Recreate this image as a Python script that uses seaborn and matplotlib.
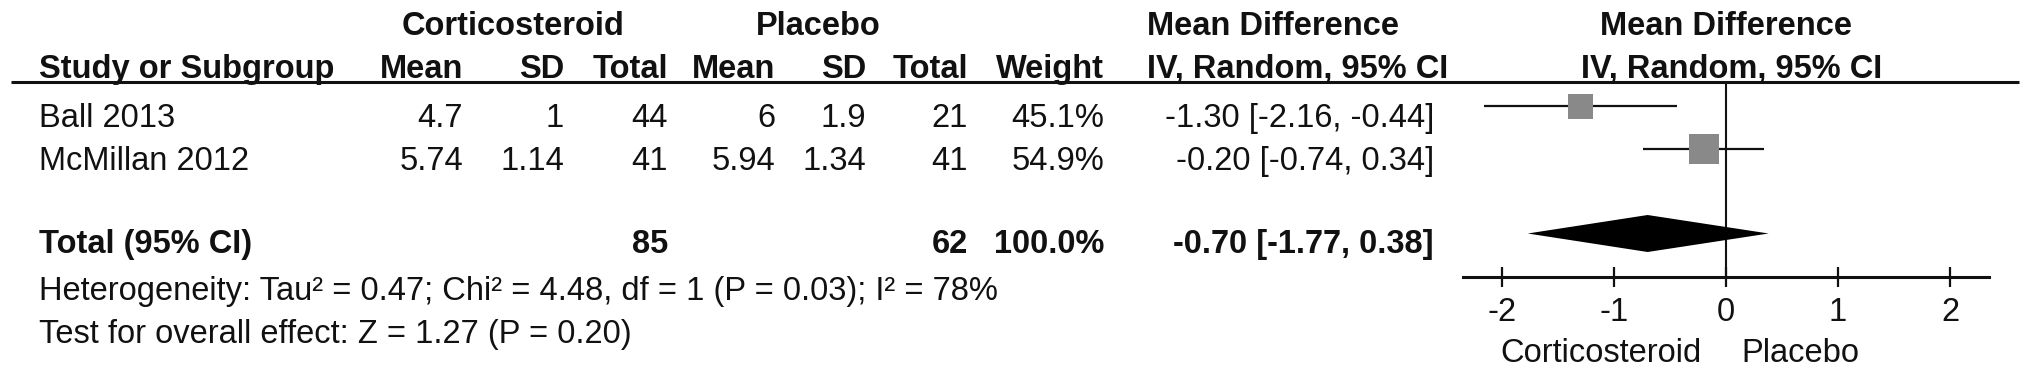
import pandas as pd
import numpy as np
import matplotlib
matplotlib.use("Agg")
import matplotlib.pyplot as plt
import seaborn as sns

# study data
studies = ["Ball 2013", "McMillan 2012"]
cs_mean = [4.7, 5.74]
cs_sd = [1, 1.14]
cs_n = [44, 41]
pl_mean = [6, 5.94]
pl_sd = [1.9, 1.34]
pl_n = [21, 41]
weight = [45.1, 54.9]
md = [-1.30, -0.20]
ci_lo = [-2.16, -0.74]
ci_hi = [-0.44, 0.34]

# pooled result
total_cs_n = 85
total_pl_n = 62
total_weight = 100.0
total_md = -0.70
total_lo = -1.77
total_hi = 0.38
heterogeneity = "Heterogeneity: Tau² = 0.47; Chi² = 4.48, df = 1 (P = 0.03); I² = 78%"
overall = "Test for overall effect: Z = 1.27 (P = 0.20)"
x_ticks = [-2, -1, 0, 1, 2]

df = pd.DataFrame({"study": studies, "md": md, "lo": ci_lo, "hi": ci_hi, "weight": weight})

sns.set_style("white")
plt.rcParams["font.family"] = ["Liberation Sans", "DejaVu Sans"]
plt.rcParams["axes.unicode_minus"] = False

W, H = 2031, 374
FS = 23.5
INK = "#111111"
fig = plt.figure(figsize=(W / 100, H / 100), dpi=100)

# table layer in pixel coordinates
tab = fig.add_axes([0, 0, 1, 1])
tab.set_xlim(0, W)
tab.set_ylim(H, 0)
tab.axis("off")

def put(x, y, s, ha="right", bold=False):
    tab.text(x, y, s, ha=ha, va="baseline", fontsize=FS, color=INK,
             fontweight="bold" if bold else "normal")

# headers
put(513, 35, "Corticosteroid", ha="center", bold=True)
put(818, 35, "Placebo", ha="center", bold=True)
put(1147, 35, "Mean Difference", ha="left", bold=True)
put(1726, 35, "Mean Difference", ha="center", bold=True)
put(39, 78, "Study or Subgroup", ha="left", bold=True)
col_x = [463, 564, 668, 775, 866, 968, 1104]
for x, s in zip(col_x, ["Mean", "SD", "Total", "Mean", "SD", "Total", "Weight"]):
    put(x, 78, s, bold=True)
put(1147, 78, "IV, Random, 95% CI", ha="left", bold=True)
put(1732, 78, "IV, Random, 95% CI", ha="center", bold=True)
tab.plot([11, 2019], [82, 82], color=INK, lw=2.2, solid_capstyle="butt")

# study rows
row_base = [127, 170]
for i, y in enumerate(row_base):
    put(39, y, studies[i], ha="left")
    vals = [f"{cs_mean[i]:g}", f"{cs_sd[i]:g}", f"{cs_n[i]}",
            f"{pl_mean[i]:g}", f"{pl_sd[i]:g}", f"{pl_n[i]}", f"{weight[i]:.1f}%"]
    for x, s in zip(col_x, vals):
        put(x, y, s)
    put(1434, y, f"{md[i]:.2f} [{ci_lo[i]:.2f}, {ci_hi[i]:.2f}]")

# total row
put(39, 253, "Total (95% CI)", ha="left", bold=True)
put(col_x[2], 253, f"{total_cs_n}", bold=True)
put(col_x[5], 253, f"{total_pl_n}", bold=True)
put(col_x[6], 253, f"{total_weight:.1f}%", bold=True)
put(1434, 253, f"{total_md:.2f} [{total_lo:.2f}, {total_hi:.2f}]", bold=True)
put(39, 300, heterogeneity, ha="left")
put(39, 343, overall, ha="left")

# forest plot, x in effect units, y in pixel rows
ax_left, ax_right, ax_top, ax_bot = 1463, 1989, 83, 277
ax = fig.add_axes([ax_left / W, 1 - ax_bot / H, (ax_right - ax_left) / W, (ax_bot - ax_top) / H])
ax.patch.set_alpha(0)
mark_y = [106, 149]
df["y"] = mark_y
ax.axvline(0, color=INK, lw=1.5, zorder=1)
ax.hlines(df["y"], df["lo"], df["hi"], color=INK, lw=1.6, zorder=2)
sns.scatterplot(data=df, x="md", y="y", size="weight", sizes=(324, 466), marker="s",
                color="#898989", linewidth=0, legend=False, ax=ax, zorder=3)
dy, half_h = 233.5, 18.5
ax.fill([total_lo, total_md, total_hi, total_md], [dy, dy - half_h, dy, dy + half_h],
        color="black", lw=0, zorder=3)

unit = (1950 - 1502) / 4
ax.set_xlim((ax_left - 1726) / unit, (ax_right - 1726) / unit)
ax.set_ylim(ax_bot, ax_top)
ax.set_xticks(x_ticks)
ax.set_xticklabels([f"{t}" for t in x_ticks])
ax.set_yticks([])
ax.set_xlabel("")
ax.set_ylabel("")
for side in ["top", "left", "right"]:
    ax.spines[side].set_visible(False)
ax.spines["bottom"].set_linewidth(2.2)
ax.spines["bottom"].set_color(INK)
ax.tick_params(axis="x", direction="inout", length=15, width=1.6, color=INK,
               pad=7, labelsize=FS, labelcolor=INK, bottom=True)

put(1702, 362, "Corticosteroid")
put(1741, 362, "Placebo", ha="left")

fig.savefig("out.png", dpi=100, facecolor="white")
